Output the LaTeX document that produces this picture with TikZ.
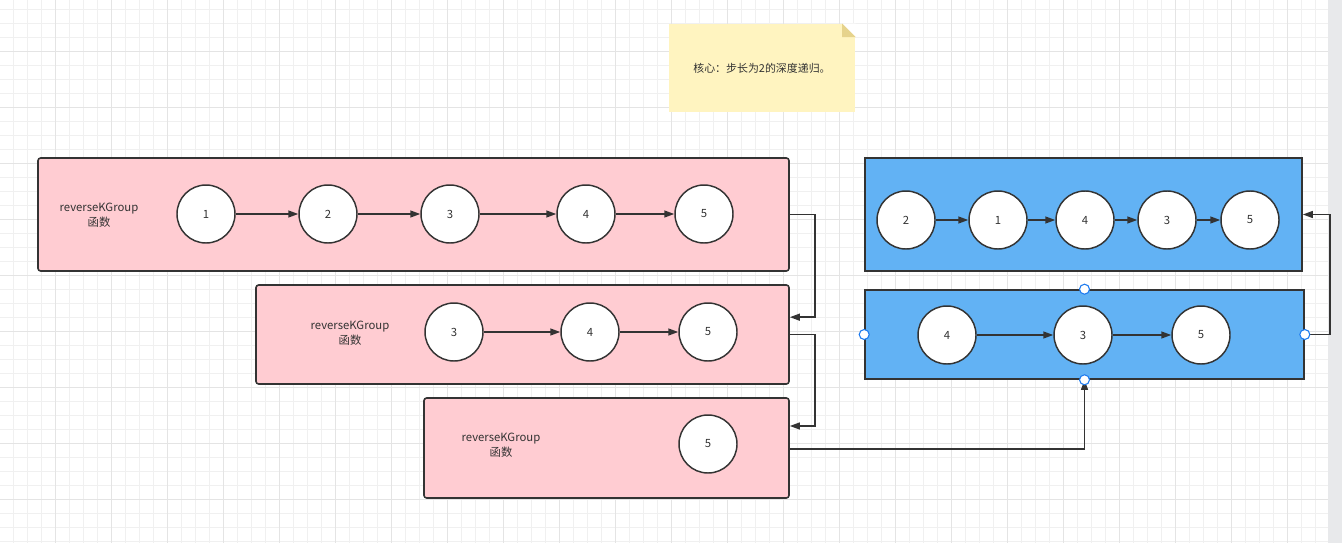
\documentclass[tikz,border=0pt]{standalone}
\usepackage{fontspec}
\setmainfont{Noto Sans CJK SC}
\usetikzlibrary{arrows.meta,positioning,calc}
\definecolor{rkInk}{HTML}{333333}
\definecolor{rkPink}{HTML}{FFCCD2}
\definecolor{rkBlue}{HTML}{62B2F4}
\definecolor{rkNote}{HTML}{FFF4C0}
\definecolor{rkFold}{HTML}{E6D38C}
\definecolor{rkHandle}{HTML}{1E7BEF}
\definecolor{rkGridMinor}{HTML}{F0F0F0}
\definecolor{rkGridMajor}{HTML}{E4E4E4}
\definecolor{rkBar}{HTML}{E8E9EB}
\tikzset{
  every picture/.style={font=\fontsize{8.5}{11}\selectfont, text=rkInk},
  rk pink/.style={draw=rkInk, line width=1.2pt, rounded corners=2pt,
    fill=rkPink, inner sep=0pt},
  rk blue/.style={draw=rkInk, line width=1.2pt, fill=rkBlue, inner sep=0pt},
  rk node/.style={circle, draw=rkInk, line width=1.1pt, fill=white,
    minimum size=43.5pt, inner sep=0pt},
  rk label/.style={align=center},
  rk arrow/.style={-{Triangle[length=7.5pt,width=5.2pt]},
    draw=rkInk, line width=1.1pt},
  rk handle/.style={circle, draw=rkHandle, line width=0.8pt, fill=white,
    minimum size=7.5pt, inner sep=0pt},
  rk minor/.style={draw=rkGridMinor, line width=0.9pt},
  rk major/.style={draw=rkGridMajor, line width=1.1pt}
}

\begin{document}
\begin{tikzpicture}[x=0.75pt,y=-0.75pt]
  \useasboundingbox (0,0) rectangle (1342,543);
  % grid
  \fill[white] (0,0) rectangle (1328,543);
  \foreach \k in {0,...,93}
    \draw[rk minor] (13.7+14*\k,0) -- (13.7+14*\k,543);
  \foreach \k in {0,...,38}
    \draw[rk minor] (0,9.7+14*\k) -- (1328,9.7+14*\k);
  \foreach \k in {0,...,22}
    \draw[rk major] (55.7+56*\k,0) -- (55.7+56*\k,543);
  \foreach \k in {0,...,8}
    \draw[rk major] (0,51.7+56*\k) -- (1328,51.7+56*\k);
  \fill[rkBar] (1328,0) rectangle (1342,543);

  % note
  \node[fill=rkNote, minimum width=139.5pt, minimum height=66pt, inner sep=0pt,
    font=\fontsize{8.2}{10}\selectfont] (note) at (762,68) {核心：步长为2的深度递归。};
  \fill[white] (842,23.5) -- (855.5,23.5) -- (855.5,37) -- cycle;
  \fill[rkFold] (842,23.5) -- (855.5,37) -- (842,37) -- cycle;

  % recursion boxes
  \node[rk pink, minimum width=563.25pt, minimum height=84.75pt] (pbox1) at (413.5,214.5) {};
  \node[rk pink, minimum width=399.75pt, minimum height=74.25pt] (pbox2) at (522.5,334.5) {};
  \node[rk pink, minimum width=273.75pt, minimum height=75pt] (pbox3) at (606.5,448) {};
  \node[rk label] (plab1) at (99,215) {reverseKGroup\\函数};
  \node[rk label] (plab2) at (350,333) {reverseKGroup\\函数};
  \node[rk label] (plab3) at (501,445) {reverseKGroup\\函数};

  \node[rk node] (a1) at (206,214) {1};
  \node[rk node] (a2) at (328,214) {2};
  \node[rk node] (a3) at (450,214) {3};
  \node[rk node] (a4) at (586,214) {4};
  \node[rk node] (a5) at (704,214) {5};
  \foreach \i/\j in {a1/a2,a2/a3,a3/a4,a4/a5}
    \draw[rk arrow] (\i) -- (\j);

  \node[rk node] (b3) at (454,332) {3};
  \node[rk node] (b4) at (590,332) {4};
  \node[rk node] (b5) at (708,332) {5};
  \foreach \i/\j in {b3/b4,b4/b5}
    \draw[rk arrow] (\i) -- (\j);

  \node[rk node] (c5) at (708,444) {5};

  % result boxes
  \node[rk blue, minimum width=327.75pt, minimum height=84.75pt] (bbox1) at (1083.5,214.5) {};
  \node[rk blue, minimum width=329.25pt, minimum height=66.75pt] (bbox2) at (1084.5,334.5) {};

  \node[rk node] (r2) at (906,220) {2};
  \node[rk node] (r1) at (998,220) {1};
  \node[rk node] (r4) at (1085,220) {4};
  \node[rk node] (r3) at (1167,220) {3};
  \node[rk node] (r5) at (1250,220) {5};
  \foreach \i/\j in {r2/r1,r1/r4,r4/r3,r3/r5}
    \draw[rk arrow] (\i) -- (\j);

  \node[rk node] (s4) at (947,335) {4};
  \node[rk node] (s3) at (1083,335) {3};
  \node[rk node] (s5) at (1201,335) {5};
  \foreach \i/\j in {s4/s3,s3/s5}
    \draw[rk arrow] (\i) -- (\j);

  % calls and returns
  \draw[rk arrow] (pbox1.east) -- ++(25,0) |- ([yshift=13pt]pbox2.east);
  \draw[rk arrow] (pbox2.east) -- ++(25,0) |- ([yshift=16.5pt]pbox3.east);
  \draw[rk arrow] ([yshift=-0.75pt]pbox3.east) -| (bbox2.south);
  \draw[rk arrow] (bbox2.east) -- ++(25,0) |- (bbox1.east);

  % selection handles
  \foreach \a in {north,south,east,west}
    \node[rk handle] (h\a) at (bbox2.\a) {};
\end{tikzpicture}
\end{document}
